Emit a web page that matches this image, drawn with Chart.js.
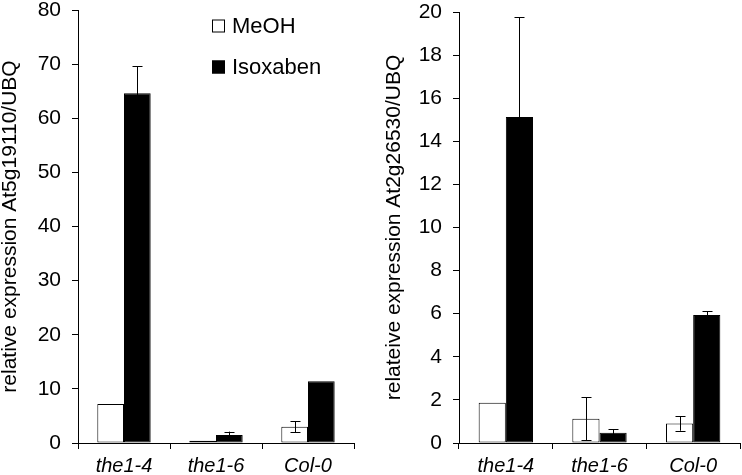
<!DOCTYPE html>
<html>
<head>
<meta charset="utf-8">
<script src="https://cdn.jsdelivr.net/npm/chart.js@4/dist/chart.umd.min.js"></script>
<style>
  html, body { margin: 0; padding: 0; background: #fff; }
  #wrap { position: relative; width: 742px; height: 475px; }
  #left { position: absolute; left: 0; top: 0; }
  #right { position: absolute; left: 370px; top: 0; }
</style>
</head>
<body>
<div id="wrap">
  <canvas id="left" width="370" height="475"></canvas>
  <canvas id="right" width="372" height="475"></canvas>
</div>
<script>
const categories = ["the1-4", "the1-6", "Col-0"];
const seriesNames = ["MeOH", "Isoxaben"];

// left panel: At5g19110
const leftMeoh = [7.2, 0.4, 3.0];
const leftMeohErr = [0, 0, 1.0];
const leftIso = [64.6, 1.5, 11.4];
const leftIsoErr = [5.0, 0.6, 0];
const leftTicks = { min: 0, max: 80, step: 10 };

// right panel: At2g26530
const rightMeoh = [1.87, 1.12, 0.9];
const rightMeohErr = [0, 1.0, 0.33];
const rightIso = [15.13, 0.47, 5.94];
const rightIsoErr = [4.62, 0.16, 0.17];
const rightTicks = { min: 0, max: 20, step: 2 };

const FONT = "'Liberation Sans', Arial, sans-serif";

const errorBars = {
  id: "errorBars",
  afterDatasetsDraw(chart) {
    const ctx = chart.ctx;
    const y = chart.scales.y;
    ctx.save();
    ctx.strokeStyle = "#000";
    ctx.lineWidth = 1;
    chart.data.datasets.forEach((ds, i) => {
      const meta = chart.getDatasetMeta(i);
      meta.data.forEach((bar, j) => {
        const err = ds.errors[j];
        if (!err) return;
        const v = ds.data[j];
        const x = Math.round(bar.x) + 0.5;
        const top = y.getPixelForValue(v + err);
        const bot = y.getPixelForValue(Math.max(0, v - err));
        ctx.beginPath();
        ctx.moveTo(x, top); ctx.lineTo(x, bot);
        ctx.moveTo(x - 5, Math.round(top) + 0.5); ctx.lineTo(x + 5, Math.round(top) + 0.5);
        if (v - err > 0) { ctx.moveTo(x - 5, Math.round(bot) + 0.5); ctx.lineTo(x + 5, Math.round(bot) + 0.5); }
        ctx.stroke();
      });
    });
    ctx.restore();
  }
};

const legendBox = {
  id: "legendBox",
  afterDraw(chart) {
    const ctx = chart.ctx;
    ctx.save();
    ctx.font = "22px " + FONT;
    ctx.textBaseline = "middle";
    chart.data.datasets.forEach((ds, i) => {
      const cy = 26 + i * 41;
      ctx.fillStyle = ds.backgroundColor;
      ctx.fillRect(212, cy - 6.5, 13, 13);
      ctx.strokeStyle = "#000";
      ctx.lineWidth = 1;
      ctx.strokeRect(212.5, cy - 6, 12, 12);
      ctx.fillStyle = "#000";
      ctx.fillText(ds.label, 232, cy + 1);
    });
    ctx.restore();
  }
};

function makeChart(id, meoh, meohErr, iso, isoErr, ticks, title, pad, yWidth, withLegend) {
  return new Chart(document.getElementById(id), {
    type: "bar",
    data: {
      labels: categories,
      datasets: [
        { label: seriesNames[0], data: meoh, errors: meohErr, backgroundColor: "#fff", borderColor: "#000", borderWidth: 1, borderSkipped: false },
        { label: seriesNames[1], data: iso, errors: isoErr, backgroundColor: "#000", borderColor: "#000", borderWidth: 1, borderSkipped: false }
      ]
    },
    options: {
      responsive: false,
      animation: false,
      events: [],
      layout: { padding: pad },
      datasets: { bar: { categoryPercentage: 0.58, barPercentage: 1 } },
      plugins: { legend: { display: false }, tooltip: { enabled: false } },
      scales: {
        x: {
          grid: { offset: true, drawOnChartArea: false, tickLength: 6, color: "#000" },
          border: { color: "#000" },
          ticks: { color: "#000", padding: 7, font: { family: FONT, size: 20, style: "italic", lineHeight: 1 } },
          afterFit: (s) => { s.height = 32; }
        },
        y: {
          min: ticks.min, max: ticks.max,
          grid: { drawOnChartArea: false, tickLength: 6, color: "#000" },
          border: { color: "#000" },
          ticks: { stepSize: ticks.step, color: "#000", padding: 11, font: { family: FONT, size: 21, lineHeight: 1 } },
          title: { display: true, text: title, color: "#000", padding: 0, font: { family: FONT, size: 21, lineHeight: 1 } },
          afterFit: (s) => { s.width = yWidth; s.paddingTop = 0; s.paddingBottom = 0; }
        }
      }
    },
    plugins: withLegend ? [errorBars, legendBox] : [errorBars]
  });
}

makeChart("left", leftMeoh, leftMeohErr, leftIso, leftIsoErr, leftTicks,
  "relative expression At5g19110/UBQ", { left: 0, right: 16, top: 10, bottom: 0 }, 78, true);
makeChart("right", rightMeoh, rightMeohErr, rightIso, rightIsoErr, rightTicks,
  "relateive expression At2g26530/UBQ", { left: 14, right: 2, top: 12, bottom: 0 }, 75, false);
</script>
</body>
</html>
